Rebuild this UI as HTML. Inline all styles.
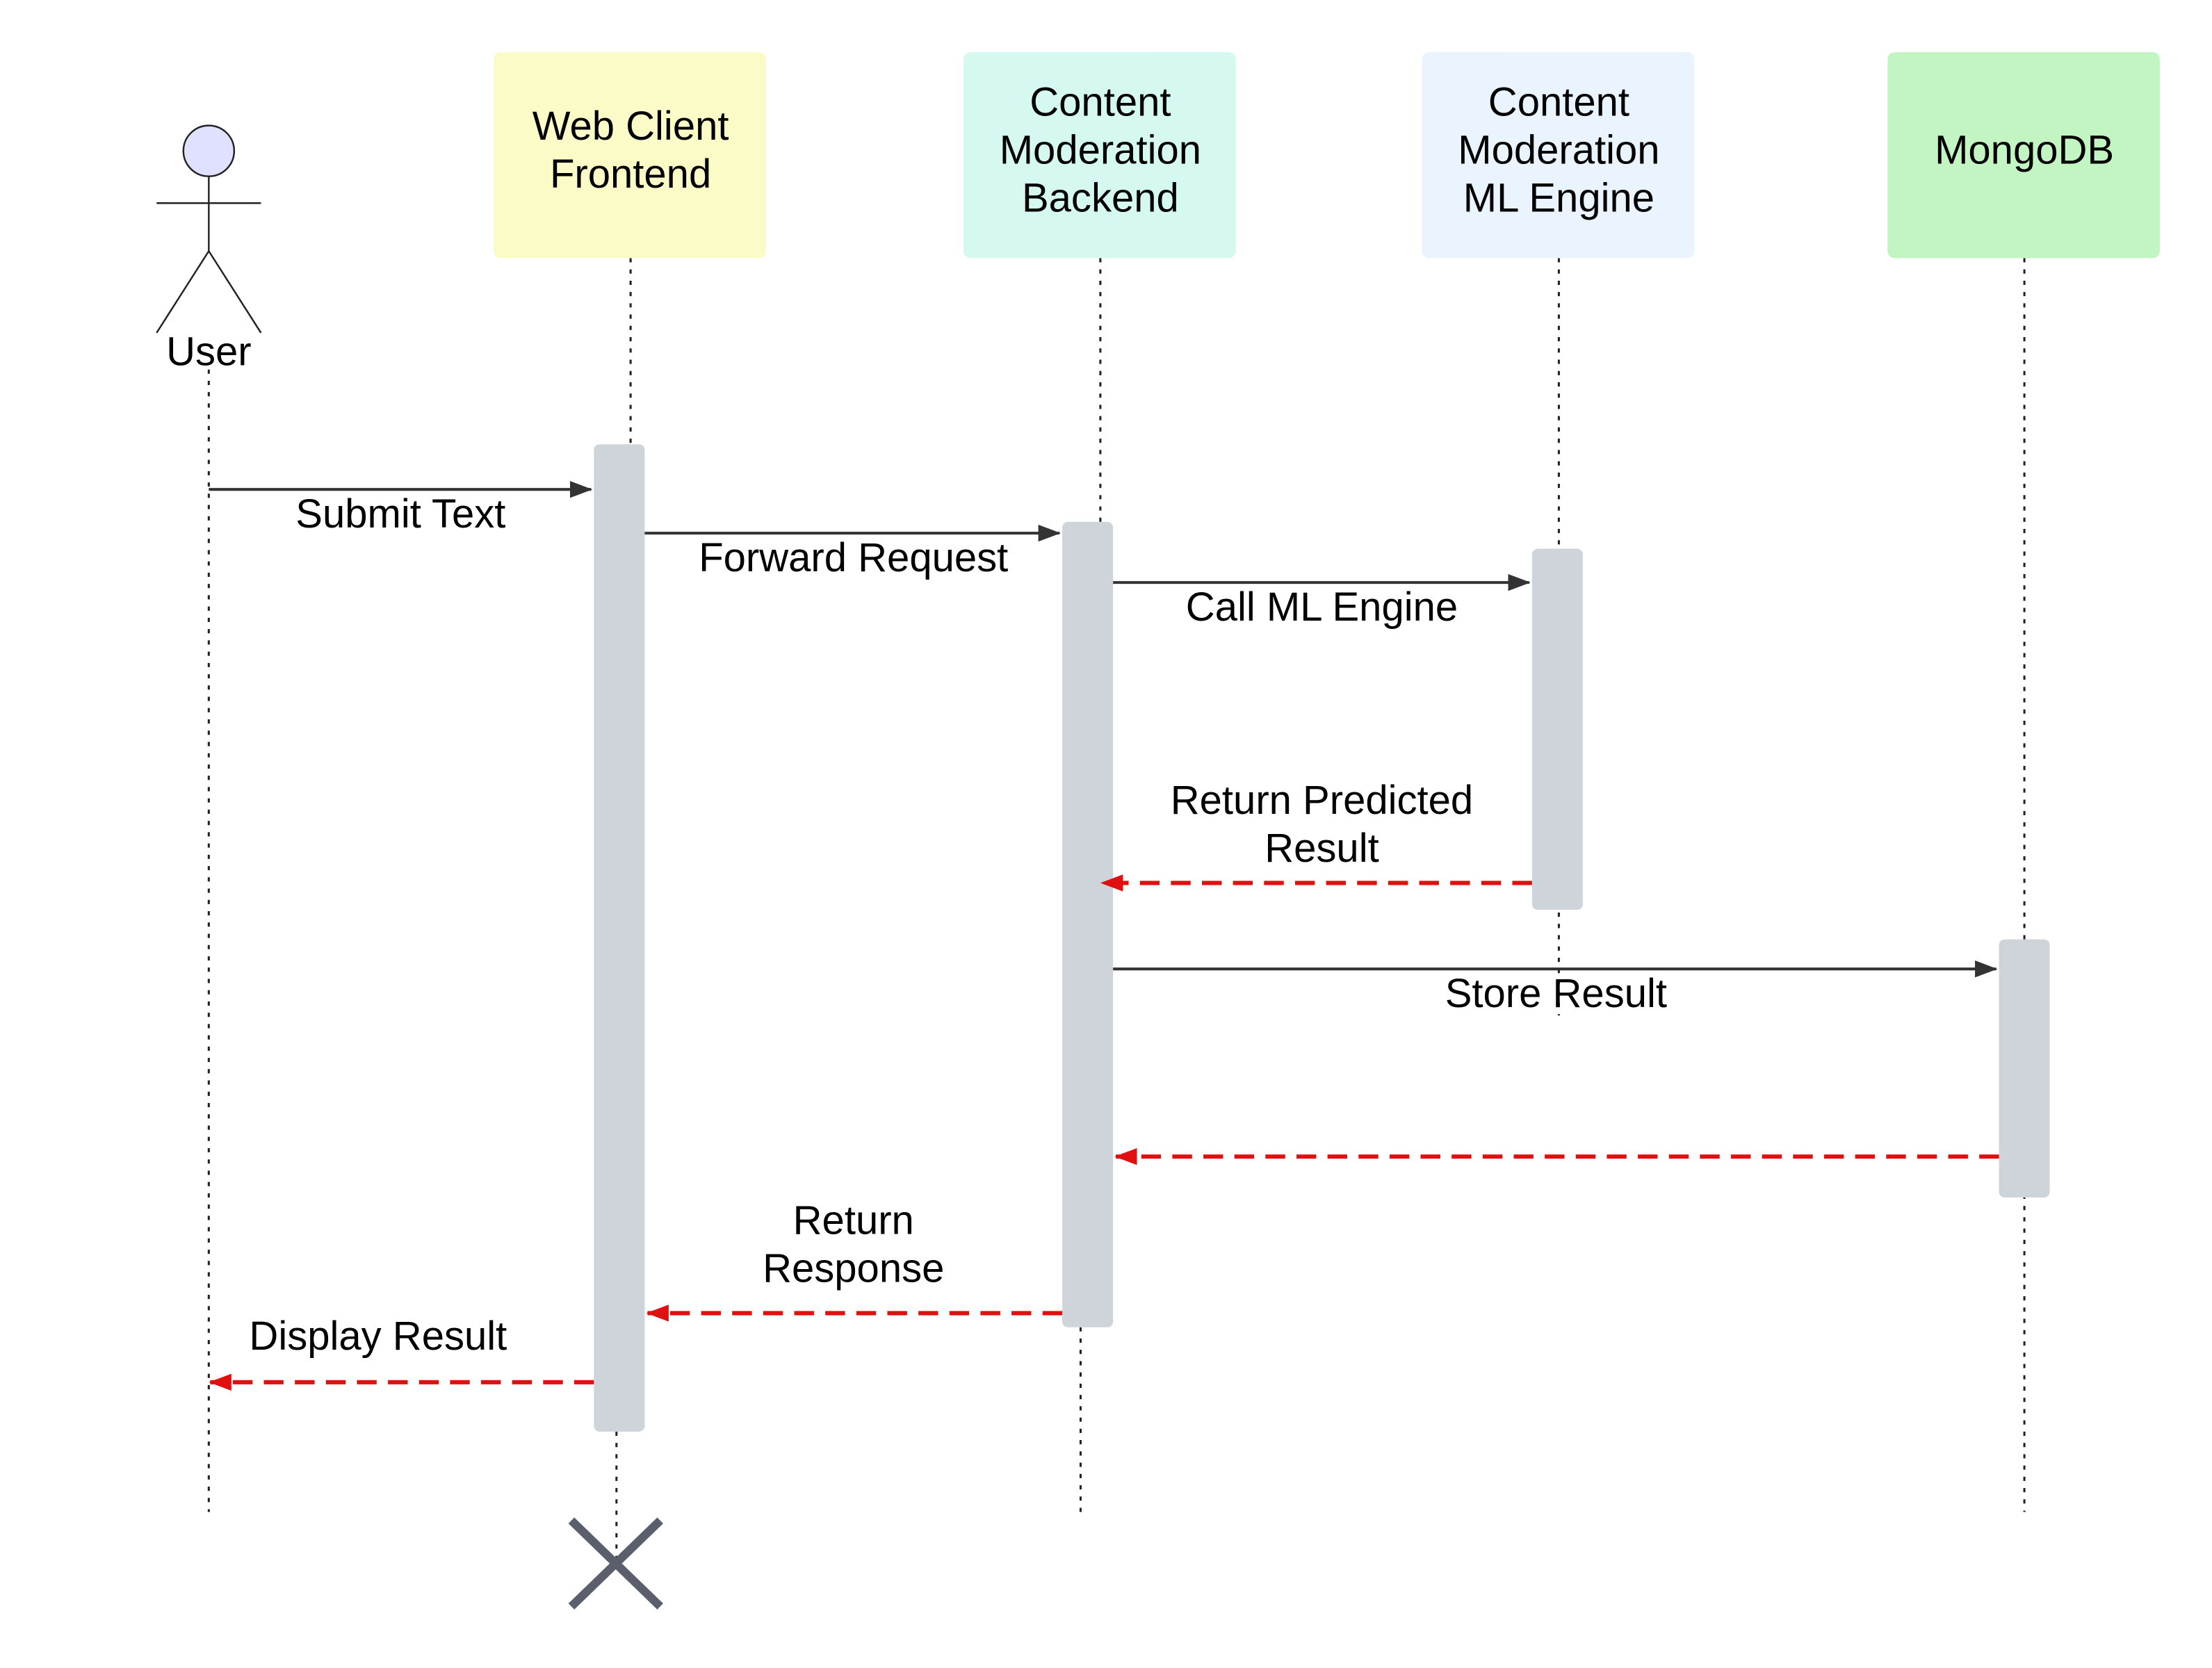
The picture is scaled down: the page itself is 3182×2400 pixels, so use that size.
<!DOCTYPE html>
<html><head><meta charset="utf-8"><style>html,body{margin:0;padding:0;background:#fff}svg{display:block}</style></head><body>
<svg width="3182" height="2400" viewBox="0 0 1568 1182.6" preserveAspectRatio="none" xmlns="http://www.w3.org/2000/svg" font-family="Liberation Sans, sans-serif" font-size="28.6" fill="#000">
<defs>
<marker id="ab" markerWidth="16" markerHeight="12" refX="15" refY="6" orient="auto" markerUnits="userSpaceOnUse"><path d="M0,0 L16,6 L0,12 Z" fill="#333"/></marker>
<marker id="ar" markerWidth="16" markerHeight="12" refX="15" refY="6" orient="auto" markerUnits="userSpaceOnUse"><path d="M0,0 L16,6 L0,12 Z" fill="#e01010"/></marker>
</defs>
<g stroke="#222" stroke-width="1.5" stroke-dasharray="3,5">
<line x1="148" y1="262" x2="148" y2="1072"/>
<line x1="447" y1="183" x2="447" y2="315"/>
<line x1="437" y1="1015" x2="437" y2="1105"/>
<line x1="780" y1="183" x2="780" y2="370"/>
<line x1="766" y1="941" x2="766" y2="1072"/>
<line x1="1105" y1="183" x2="1105" y2="720"/>
<line x1="1435" y1="183" x2="1435" y2="1072"/>
</g>
<g stroke="#222" stroke-width="1.2" fill="none">
<circle cx="148" cy="107" r="18" fill="#e0e0ff"/>
<line x1="148" y1="125" x2="148" y2="178"/>
<line x1="111" y1="144" x2="185" y2="144"/>
<line x1="148" y1="178" x2="111" y2="236"/>
<line x1="148" y1="178" x2="185" y2="236"/>
</g>
<text x="148" y="259" text-anchor="middle">User</text>
<rect x="350" y="37" width="193" height="146" rx="5" fill="#fbfbc8"/>
<rect x="683" y="37" width="193" height="146" rx="5" fill="#d5f8f0"/>
<rect x="1008" y="37" width="193" height="146" rx="5" fill="#eaf4ff"/>
<rect x="1338" y="37" width="193" height="146" rx="5" fill="#c2f5c2"/>
<g text-anchor="middle">
<text x="447" y="99">Web Client</text><text x="447" y="133">Frontend</text>
<text x="780" y="82">Content</text><text x="780" y="116">Moderation</text><text x="780" y="150">Backend</text>
<text x="1105" y="82">Content</text><text x="1105" y="116">Moderation</text><text x="1105" y="150">ML Engine</text>
<text x="1435" y="116">MongoDB</text>
</g>
<g fill="#cfd4db">
<rect x="421" y="315" width="36" height="700" rx="4"/>
<rect x="753" y="370" width="36" height="571" rx="4"/>
<rect x="1086" y="389" width="36" height="256" rx="4"/>
<rect x="1417" y="666" width="36" height="183" rx="4"/>
</g>
<g stroke="#333" stroke-width="2" marker-end="url(#ab)">
<line x1="148" y1="347" x2="419" y2="347"/>
<line x1="457" y1="378" x2="751" y2="378"/>
<line x1="789" y1="413" x2="1084" y2="413"/>
<line x1="789" y1="687" x2="1415" y2="687"/>
</g>
<g stroke="#e01010" stroke-width="3" stroke-dasharray="14,8" marker-end="url(#ar)">
<line x1="1086" y1="626" x2="781" y2="626"/>
<line x1="1417" y1="820" x2="791" y2="820"/>
<line x1="753" y1="931" x2="459" y2="931"/>
<line x1="421" y1="980" x2="149" y2="980"/>
</g>
<g text-anchor="middle">
<text x="284" y="374">Submit Text</text>
<text x="605" y="405">Forward Request</text>
<text x="937" y="440">Call ML Engine</text>
<text x="937" y="577">Return Predicted</text><text x="937" y="611">Result</text>
<text x="1103" y="714">Store Result</text>
<text x="605" y="875">Return</text><text x="605" y="909">Response</text>
<text x="268" y="957">Display Result</text>
</g>
<g stroke="#5a5f6b" stroke-width="6">
<line x1="405" y1="1078" x2="468" y2="1139"/>
<line x1="468" y1="1078" x2="405" y2="1139"/>
</g>
</svg>
</body></html>
